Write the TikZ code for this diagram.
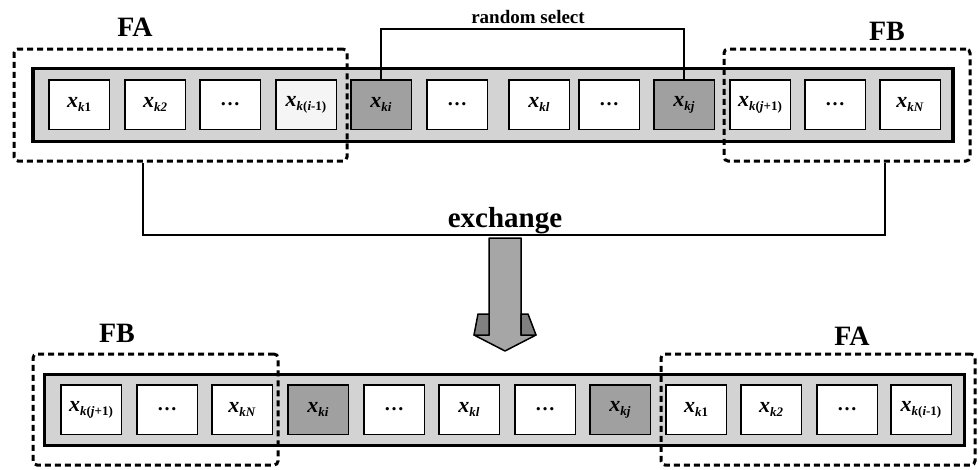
\documentclass[tikz,border=0pt]{standalone}
\usepackage{fontspec}
\setmainfont{Liberation Serif}
\definecolor{bargray}{HTML}{D3D3D3}
\definecolor{cellgray}{HTML}{A0A0A0}
\definecolor{shaftgray}{HTML}{A6A6A6}
\definecolor{winggray}{HTML}{808080}
\definecolor{offwhite}{HTML}{F4F5F4}
\newcommand{\xk}[1]{{\fontsize{22}{22}\selectfont\bfseries\itshape x}\raisebox{-4pt}{\fontsize{13}{13}\selectfont\bfseries #1}}
\newcommand{\dts}{\raisebox{-3pt}{\fontsize{20}{20}\selectfont\bfseries\dots}}
\tikzset{
  cell/.style={draw=black, line width=1.5pt, fill=white, minimum width=60.5pt, minimum height=49.5pt, inner sep=0pt},
  graycell/.style={cell, fill=cellgray},
  bar/.style={draw=black, line width=3.2pt, fill=bargray, inner sep=0pt},
  grp/.style={draw=black, line width=3pt, dash pattern=on 6pt off 4pt, rounded corners=4pt, inner sep=0pt},
  biglabel/.style={font=\fontsize{28}{28}\selectfont\bfseries, anchor=base, inner sep=0pt},
  conn/.style={draw=black, line width=1.2pt},
  arrowpart/.style={draw=black, line width=1.5pt, line join=round}
}
\begin{document}
\begin{tikzpicture}[x=1pt, y=-1pt]
\useasboundingbox (0,0) rectangle (978,469);
% ---------- top row ----------
\node[bar, minimum width=920pt, minimum height=73pt] (bartop) at (493,105) {};
\node[cell] (t1) at (79,104.5) {\xk{\textit{k}1}};
\node[cell] (t2) at (155,104.5) {\xk{\textit{k2}}};
\node[cell] (t3) at (230,104.5) {\dts};
\node[cell, fill=offwhite] (t4) at (306,104.5) {\xk{\textit{k}(\textit{i}-1)}};
\node[graycell] (t5) at (381,104.5) {\xk{\textit{ki}}};
\node[cell] (t6) at (457,104.5) {\dts};
\node[cell] (t7) at (539,104.5) {\xk{\textit{kl}}};
\node[cell] (t8) at (609,104.5) {\dts};
\node[graycell] (t9) at (684,104.5) {\xk{\textit{kj}}};
\node[cell] (t10) at (760,104.5) {\xk{\textit{k}(\textit{j}+1)}};
\node[cell] (t11) at (835,104.5) {\dts};
\node[cell] (t12) at (910,104.5) {\xk{\textit{kN}}};
\node[grp, minimum width=333pt, minimum height=112pt] (FAt) at (180.5,105) {};
\node[grp, minimum width=246pt, minimum height=112pt] (FBt) at (847,105) {};
\node[biglabel] (FAtl) at (135,36) {FA};
\node[biglabel] (FBtl) at (887,40) {FB};
% random select
\coordinate (rsy) at (0,29);
\draw[conn] (t5.north) -- (t5.north |- rsy) -- (t9.north |- rsy) -- (t9.north);
\node[font=\fontsize{19}{19}\selectfont\bfseries, anchor=base, inner sep=0pt] (rs) at (528,23) {random select};
% exchange
\coordinate (cA) at (143,0);
\coordinate (cB) at (885,0);
\coordinate (cY) at (0,235);
\draw[conn] (FAt.south -| cA) -- (cA |- cY) -| (FBt.south -| cB);
\node[font=\fontsize{29}{29}\selectfont\bfseries, anchor=base, inner sep=0pt] (ex) at (505,227) {exchange};
% big arrow
\draw[arrowpart, fill=shaftgray] (489,238) -- (521,238) -- (521,335) -- (536,335) -- (505,351) -- (474,335) -- (489,335) -- cycle;
\draw[arrowpart, fill=winggray] (478,314) -- (489,314) -- (489,335) -- (474,335) -- cycle;
\draw[arrowpart, fill=winggray] (521,314) -- (528,314) -- (536,335) -- (521,335) -- cycle;
% ---------- bottom row ----------
\node[bar, minimum width=920pt, minimum height=71pt] (barbot) at (504.5,410) {};
\node[cell] (b1) at (91,409.5) {\xk{\textit{k}(\textit{j}+1)}};
\node[cell] (b2) at (167,409.5) {\dts};
\node[cell] (b3) at (242,409.5) {\xk{\textit{kN}}};
\node[graycell] (b4) at (318,409.5) {\xk{\textit{ki}}};
\node[cell] (b5) at (394,409.5) {\dts};
\node[cell] (b6) at (469,409.5) {\xk{\textit{kl}}};
\node[cell] (b7) at (545,409.5) {\dts};
\node[graycell] (b8) at (620,409.5) {\xk{\textit{kj}}};
\node[cell] (b9) at (696,409.5) {\xk{\textit{k}1}};
\node[cell] (b10) at (771,409.5) {\xk{\textit{k2}}};
\node[cell] (b11) at (847,409.5) {\dts};
\node[cell] (b12) at (921,409.5) {\xk{\textit{k}(\textit{i}-1)}};
\node[grp, minimum width=245pt, minimum height=111pt] (FBb) at (155.5,409.5) {};
\node[grp, minimum width=314pt, minimum height=111pt] (FAb) at (818,409.5) {};
\node[biglabel] (FBbl) at (117,342) {FB};
\node[biglabel] (FAbl) at (852,345) {FA};
\end{tikzpicture}
\end{document}
